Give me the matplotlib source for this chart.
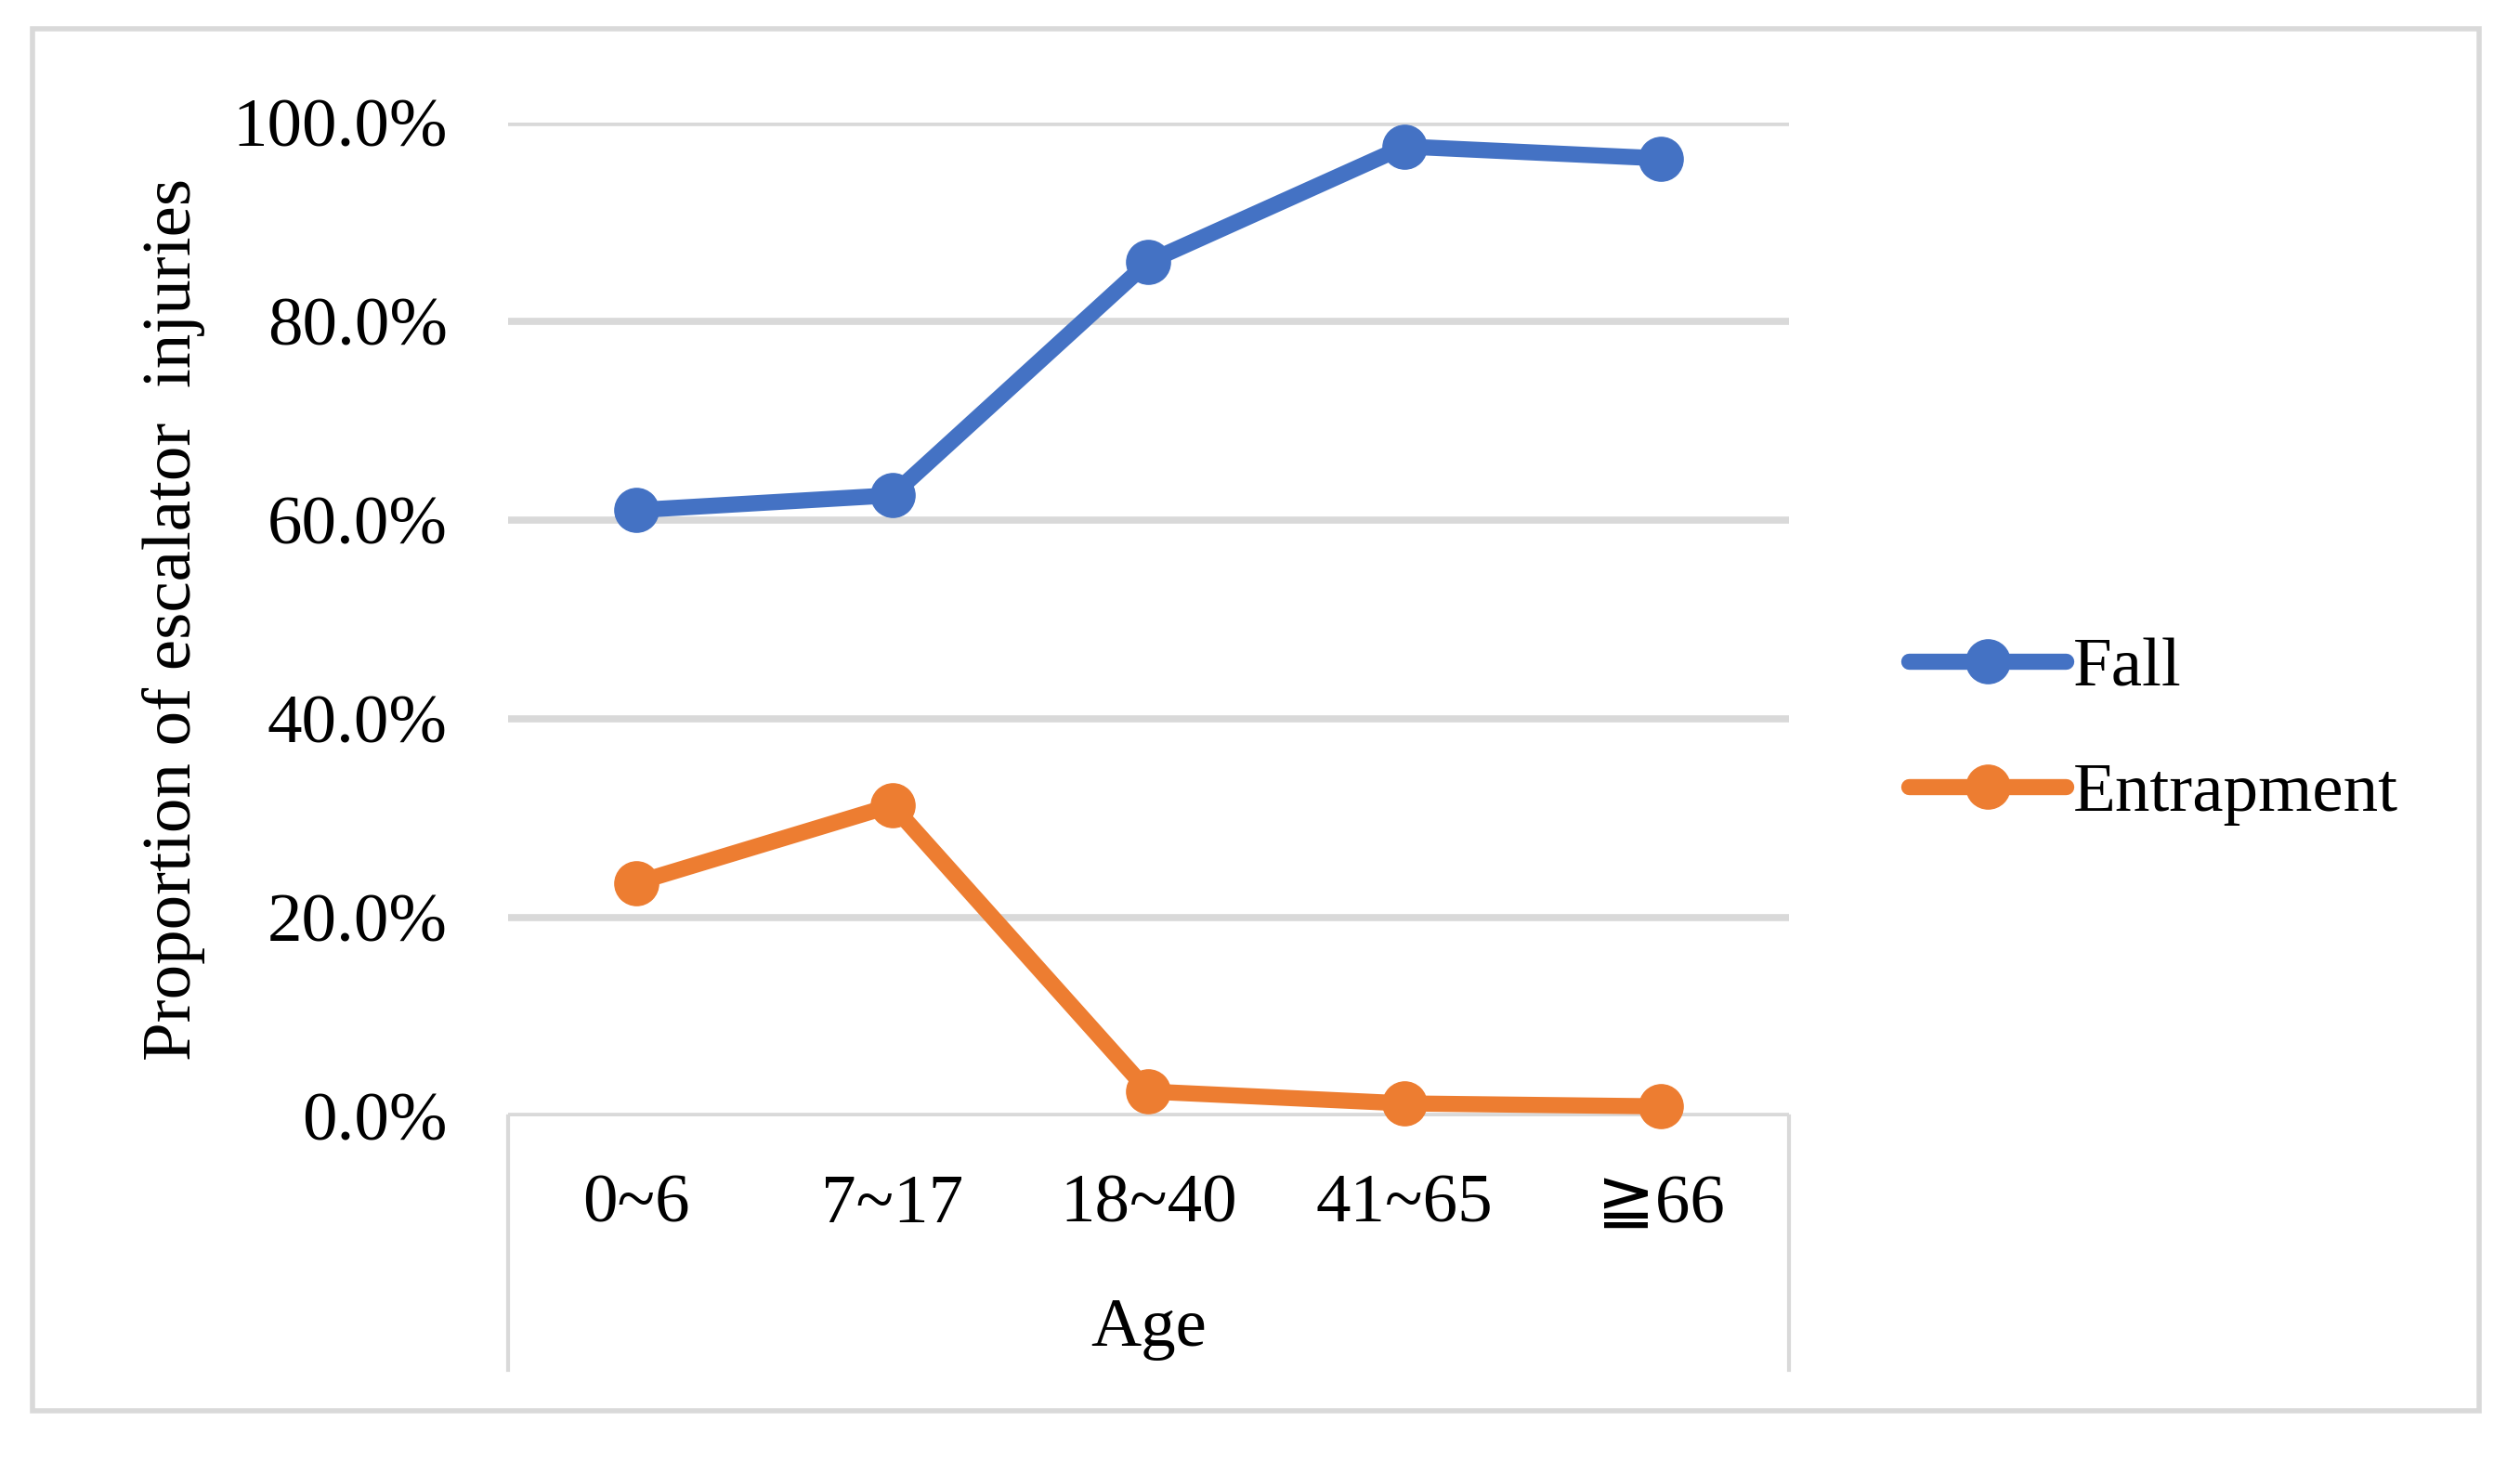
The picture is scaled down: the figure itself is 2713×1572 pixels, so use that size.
import matplotlib
matplotlib.use("Agg")
import matplotlib.pyplot as plt
from matplotlib.lines import Line2D
from matplotlib.patches import Rectangle
from matplotlib.ticker import PercentFormatter

plt.rcParams['font.family'] = ['Liberation Serif', 'DejaVu Sans', 'Noto Sans CJK JP']

# data
ages = ['0~6', '7~17', '18~40', '41~65', '≧66']
fall = [61.0, 62.5, 86.0, 97.6, 96.4]
entrapment = [23.5, 31.3, 2.5, 1.3, 1.0]
yticks = [0, 20, 40, 60, 80, 100]

BLUE = '#4472C4'
ORANGE = '#ED7D31'
GRID = '#D9D9D9'
FS = 54

fig = plt.figure(figsize=(27.13, 15.72), dpi=100)
ax = fig.add_axes([0.2016, 0.2354, 0.5083, 0.6806])

x = list(range(len(ages)))
ax.plot(x, fall, color=BLUE, lw=12.5, marker='o', ms=34, label='Fall',
        solid_capstyle='round', clip_on=False, zorder=3)
ax.plot(x, entrapment, color=ORANGE, lw=12.5, marker='o', ms=34, label='Entrapment',
        solid_capstyle='round', clip_on=False, zorder=3)

ax.set_xlim(-0.5, len(ages) - 0.5)
ax.set_ylim(0, 100)
ax.set_yticks(yticks)
ax.yaxis.set_major_formatter(PercentFormatter(decimals=1))
ax.set_xticks(x)
ax.set_xticklabels(ages)
ax.tick_params(axis='both', length=0, labelsize=FS)
ax.tick_params(axis='y', pad=47)
ax.tick_params(axis='x', pad=45)
for s in ax.spines.values():
    s.set_visible(False)
ax.yaxis.grid(True, color=GRID, lw=5.5)
ax.set_axisbelow(True)

# category axis box
for xf in (0.2016, 0.2016 + 0.5083):
    fig.add_artist(Line2D([xf, xf], [0.2354, 0.0617], color=GRID, lw=3))

# outer chart frame
fig.add_artist(Rectangle((0.0129, 0.0337), 0.9709, 0.9466, transform=fig.transFigure,
                         fill=False, edgecolor=GRID, lw=4))

fig.text(0.0689, 0.576, 'Proportion of escalator  injuries', rotation=90,
         ha='center', va='center', fontsize=FS)
fig.text(0.456, 0.0897, 'Age', ha='center', va='center', fontsize=FS)

leg = fig.legend(loc='center left', bbox_to_anchor=(0.7465, 0.499), frameon=False,
                 fontsize=FS, handlelength=2.25, handletextpad=0.1, labelspacing=0.88,
                 borderaxespad=0)

fig.savefig('out.png', dpi=100)
